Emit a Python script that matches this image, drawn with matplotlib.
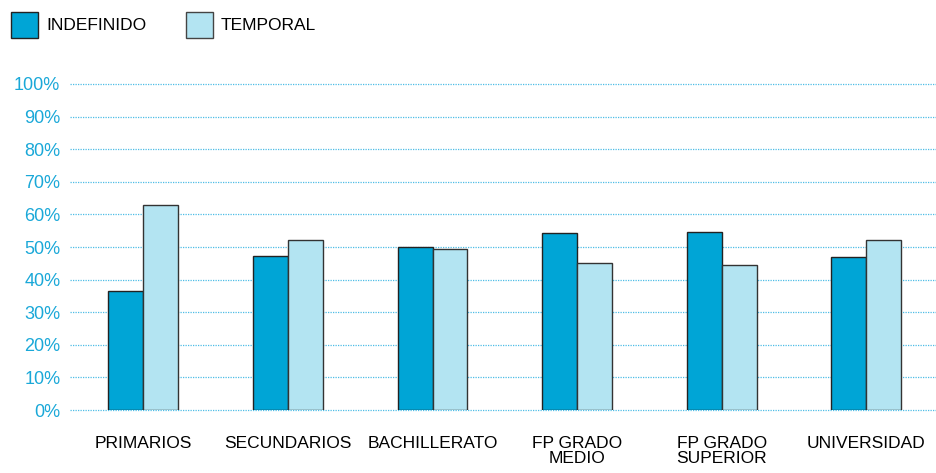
import matplotlib.pyplot as plt
import numpy as np
from matplotlib.patches import Patch

plt.rcParams['font.family'] = ['Liberation Sans', 'DejaVu Sans']

categorias = ['PRIMARIOS', 'SECUNDARIOS', 'BACHILLERATO', 'FP GRADO\nMEDIO',
              'FP GRADO\nSUPERIOR', 'UNIVERSIDAD']
indefinido = [36.4, 47.3, 49.9, 54.4, 54.7, 47.0]
temporal = [63.0, 52.1, 49.4, 45.0, 44.4, 52.1]
yticks = [0, 10, 20, 30, 40, 50, 60, 70, 80, 90, 100]

c_indef = '#00a5d6'
c_temp = '#b3e4f2'
c_text_y = '#1aa8d8'

fig = plt.figure(figsize=(9.37, 4.73), dpi=100)
ax = fig.add_axes([70 / 937, 1 - 410 / 473, 1 - 70 / 937, (410 - 84) / 473])

x = np.arange(len(categorias))
w = 0.242
ax.bar(x - w / 2, indefinido, w, color=c_indef, edgecolor='#222222', linewidth=1, zorder=3)
ax.bar(x + w / 2, temporal, w, color=c_temp, edgecolor='#333333', linewidth=1, zorder=3)

ax.set_xlim(-0.507, 5.489)
ax.set_ylim(0, 100)
ax.set_yticks(yticks)
ax.set_yticklabels([f'{v}%' for v in yticks], color=c_text_y, fontsize=13)
ax.set_xticks(x)
ax.set_xticklabels(categorias, fontsize=12.5, linespacing=0.95, va='top')
ax.tick_params(axis='both', length=0)
ax.tick_params(axis='y', pad=7)
ax.tick_params(axis='x', pad=19)
for s in ax.spines.values():
    s.set_visible(False)
ax.yaxis.grid(True, linestyle=(0, (1, 1)), color='#4dbde6', linewidth=0.9, zorder=0)
ax.set_axisbelow(True)
for l in ax.get_ygridlines():
    l.set_clip_on(False)

handles = [Patch(facecolor=c_indef, edgecolor='#222222', label='INDEFINIDO'),
           Patch(facecolor=c_temp, edgecolor='#444444', label='TEMPORAL')]
fig.legend(handles=handles, loc='upper left', bbox_to_anchor=(0.003, 0.994), ncol=2,
           frameon=False, fontsize=12.5, handlelength=1.55, handleheight=1.95,
           handletextpad=0.45, columnspacing=2.3, borderaxespad=0.3, borderpad=0.2)

plt.savefig('out.png', dpi=100)
